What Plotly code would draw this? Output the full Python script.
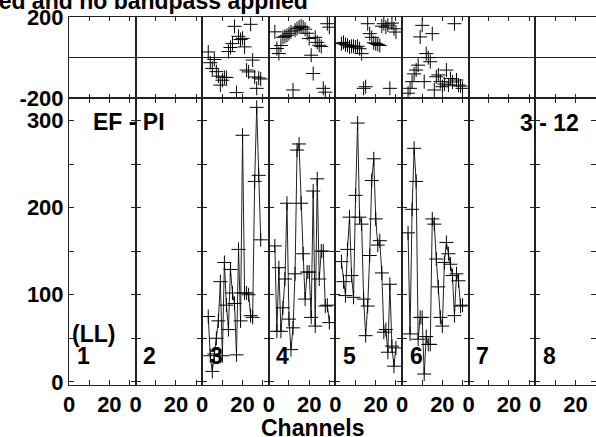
import plotly.graph_objects as go
from plotly.subplots import make_subplots

# ---------------- data ----------------
channels = list(range(3, 31))
if_labels = ["1", "2", "3", "4", "5", "6", "7", "8"]

amp_if3 = [75, 30, 12, 32, 50, 70, 115, 30, 137, 88, 60, 129, 102, 90, 31, 152,
           70, 283, 102, 102, 100, 76, 74, 230, 315, 237, 163, None]
amp_if4 = [156, 58, 131, 58, 85, 118, 205, 72, 37, 62, 124, 266, 273, 205, 147, 95,
           126, 126, 74, 219, 64, 233, 118, 150, 150, 87, 88, 68]
amp_if5 = [138, 115, 99, 152, 189, 122, 97, 214, 297, 189, 181, 95, 53, 87, 145, 231,
           256, 187, 157, 162, 125, 57, 60, 34, 112, 41, 18, 39]
amp_if6 = [171, 55, 198, 268, 230, 49, 74, 74, 9, 52, 43, 43, 187, 181, 141, 109,
           74, 64, 137, 160, 147, 135, 122, 76, 124, 116, 87, 88]

ph_if3 = [28, -25, -53, -9, -69, -91, -135, -111, -97, -97, 30, 50, 69, 154, -172, 105,
          89, 95, 53, -61, -70, 164, -12, -95, -151, -100, -105, None]
ph_if4 = [127, 45, 20, 60, 100, 105, 110, 118, 127, -159, 135, 143, 150, 155, 150, 140,
          120, 94, 12, -78, 100, 75, 61, 55, -151, -170, 167, 150]
ph_if5 = [69, 75, 64, 61, 52, 56, 56, 52, 56, 44, 20, -151, -143, 167, 118, 100,
          73, 69, 65, 60, 155, 167, 150, 160, -151, 170, 142, 126]
ph_if6 = [-175, -151, -118, -80, -61, -37, 102, 159, -118, 20, 0, -20, 118, -159, -94, -85,
          -118, -143, -130, -61, -135, -103, -120, 167, -110, -135, -140, -151]

amp_data = {3: amp_if3, 4: amp_if4, 5: amp_if5, 6: amp_if6}
ph_data = {3: ph_if3, 4: ph_if4, 5: ph_if5, 6: ph_if6}

amp_ticks = [0, 50, 100, 150, 200, 250, 300]
amp_ticktext = ["0", "", "100", "", "200", "", "300"]
chan_ticks = [0, 10, 20, 30]
chan_ticktext = ["0", "", "20", ""]

title_text = "Calibrated and no bandpass applied"
baseline_text = "EF - PI"
time_text = "3 - 12"
stokes_text = "(LL)"
xlabel = "Channels"

# ---------------- layout geometry ----------------
W, H = 596, 437
L, R, T, B = 69, 0, 17, 52
PW, PH = W - L - R, H - T - B
panel_px = 66.6


def px2x(px):
    return (px - L) / PW


def py2y(py):
    return (H - B - py) / PH


FONT = dict(family="Liberation Sans, Arial, sans-serif", size=23, color="black", weight="bold")
TICKFONT = dict(FONT, size=22)
LINEC = "#222222"
CROSS = dict(symbol="cross-thin", size=10, line=dict(width=1, color="black"))

fig = make_subplots(rows=2, cols=8, horizontal_spacing=0, vertical_spacing=0)

for k in range(1, 9):
    if k in amp_data:
        fig.add_trace(go.Scatter(x=channels, y=ph_data[k], mode="markers", marker=CROSS,
                                 showlegend=False, hoverinfo="skip"), row=1, col=k)
        fig.add_trace(go.Scatter(x=channels, y=amp_data[k], mode="lines+markers",
                                 line=dict(color=LINEC, width=1), marker=CROSS,
                                 showlegend=False, hoverinfo="skip"), row=2, col=k)
    else:
        # empty IF panels (flagged): keep the axes frame
        fig.add_trace(go.Scatter(x=[None], y=[None], mode="markers",
                                 showlegend=False, hoverinfo="skip"), row=1, col=k)
        fig.add_trace(go.Scatter(x=[None], y=[None], mode="markers",
                                 showlegend=False, hoverinfo="skip"), row=2, col=k)

y_split = py2y(98.3)
for k in range(1, 9):
    x0 = px2x(L + (k - 1) * panel_px)
    x1 = min(1.0, px2x(L + k * panel_px))
    xr = 33 * (x1 - x0) * PW / panel_px
    common_x = dict(range=[0, xr], tickvals=chan_ticks, ticks="inside", showline=True,
                    linecolor=LINEC, linewidth=1, mirror="ticks", showgrid=False,
                    zeroline=False, tickcolor=LINEC, tickwidth=1)
    fig.update_xaxes(domain=[x0, x1], ticklen=4, showticklabels=False, row=1, col=k, **common_x)
    fig.update_xaxes(domain=[x0, x1], ticklen=5, ticktext=chan_ticktext, showticklabels=True,
                     tickfont=TICKFONT, row=2, col=k, **common_x)
    fig.update_yaxes(domain=[y_split, 1], range=[-200, 200], tickvals=[-200, 200],
                     ticktext=["-200", "200"], showticklabels=(k == 1), ticks="",
                     showline=True, linecolor=LINEC, linewidth=1, mirror=True,
                     showgrid=False, zeroline=True, zerolinecolor=LINEC, zerolinewidth=1,
                     tickfont=TICKFONT, row=1, col=k)
    fig.update_yaxes(domain=[0, y_split], range=[-3.6, 325.4], tickvals=amp_ticks,
                     ticktext=amp_ticktext, showticklabels=(k == 1), ticks="inside",
                     ticklen=5, tickcolor=LINEC, tickwidth=1,
                     showline=True, linecolor=LINEC, linewidth=1, mirror="ticks",
                     showgrid=False, zeroline=False, tickfont=TICKFONT, row=2, col=k)

ann = []
ann.append(dict(text=title_text, x=px2x(310), y=py2y(1), xanchor="right", yanchor="middle"))
ann.append(dict(text=baseline_text, x=px2x(128.5), y=py2y(122), xanchor="center", yanchor="middle"))
ann.append(dict(text=time_text, x=px2x(549), y=py2y(123), xanchor="center", yanchor="middle"))
ann.append(dict(text=stokes_text, x=px2x(93), y=py2y(334), xanchor="center", yanchor="middle"))
for k, lab in enumerate(if_labels):
    ann.append(dict(text=lab, x=px2x(L + k * panel_px + 14), y=py2y(356),
                    xanchor="center", yanchor="middle"))
ann.append(dict(text=xlabel, x=px2x(313), y=py2y(427.5), xanchor="center", yanchor="middle"))
for a in ann:
    a.update(xref="paper", yref="paper", showarrow=False, font=FONT)

fig.update_layout(
    width=W, height=H, margin=dict(l=L, r=R, t=T, b=B, autoexpand=False),
    paper_bgcolor="white", plot_bgcolor="white", font=FONT, annotations=ann,
    showlegend=False,
)

fig.write_html("out.html", config={"displayModeBar": False},
               post_script="document.body.style.margin='0';")
